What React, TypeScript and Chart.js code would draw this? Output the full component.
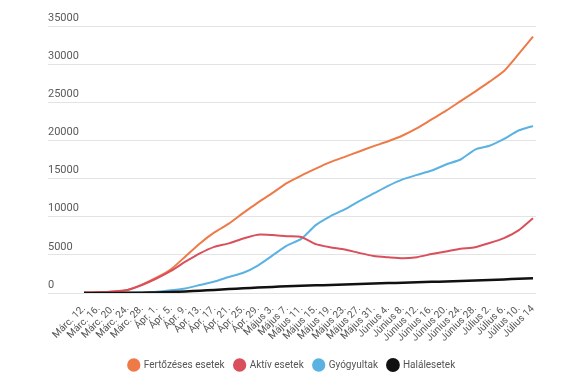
import React, { useEffect, useRef } from "react";
import { Chart, registerables } from "chart.js";

Chart.register(...registerables);

const categories = [
  "Márc. 12.", "Márc. 16.", "Márc. 20.", "Márc. 24.", "Márc. 28.",
  "Ápr. 1.", "Ápr. 5.", "Ápr. 9.", "Ápr. 13.", "Ápr. 17.", "Ápr. 21.", "Ápr. 25.", "Ápr. 29.",
  "Május 3.", "Május 7.", "Május 11.", "Május 15.", "Május 19.", "Május 23.", "Május 27.", "Május 31.",
  "Június 4.", "Június 8.", "Június 12.", "Június 16.", "Június 20.", "Június 24.", "Június 28.",
  "Július 2.", "Július 6.", "Július 10.", "Július 14",
];

const totalCases = [
  50, 100, 200, 400, 1100, 2000, 3100, 4800, 6500, 7950, 9100, 10500, 11850, 13100, 14400, 15400,
  16300, 17150, 17850, 18550, 19250, 19900, 20650, 21600, 22750, 23900, 25150, 26400, 27700, 29100, 31300, 33600,
];
const activeCases = [
  50, 100, 200, 400, 1050, 1900, 2900, 4100, 5200, 6050, 6500, 7150, 7650, 7600, 7450, 7350,
  6400, 6000, 5700, 5250, 4850, 4680, 4550, 4700, 5100, 5450, 5800, 6000, 6550, 7200, 8200, 9800,
];
const recovered = [
  0, 0, 10, 20, 50, 150, 350, 600, 1050, 1500, 2100, 2650, 3600, 4900, 6200, 7100,
  8900, 10050, 10950, 12050, 13050, 14050, 14900, 15480, 16050, 16850, 17500, 18800, 19300, 20200, 21300, 21900,
];
const deaths = [
  0, 5, 10, 20, 40, 80, 130, 200, 300, 400, 520, 620, 720, 800, 880, 940,
  1000, 1060, 1120, 1180, 1250, 1300, 1350, 1400, 1460, 1520, 1580, 1640, 1700, 1780, 1860, 1930,
];

const seriesNames = ["Fertőzéses esetek", "Aktív esetek", "Gyógyultak", "Halálesetek"];
const yTicks = [0, 5000, 10000, 15000, 20000, 25000, 30000, 35000];

export default function App() {
  const ref = useRef<HTMLCanvasElement | null>(null);

  useEffect(() => {
    document.body.style.margin = "0";
    if (!ref.current) return;
    const toPts = (arr: number[]) => arr.map((v, i) => ({ x: i, y: v }));
    const colors = ["#ee7a48", "#d9505c", "#5ab2e2", "#111111"];
    const dataArrays = [totalCases, activeCases, recovered, deaths];
    const orders = [2, 1, 3, 0];
    const chart = new Chart(ref.current, {
      type: "line",
      data: {
        datasets: dataArrays.map((arr, k) => ({
          label: seriesNames[k],
          data: toPts(arr),
          borderColor: colors[k],
          backgroundColor: colors[k],
          borderWidth: k === 3 ? 2.5 : 2,
          pointRadius: 0,
          tension: 0.2,
          order: orders[k],
        })),
      },
      options: {
        animation: false,
        responsive: false,
        maintainAspectRatio: false,
        layout: { padding: { left: 48, right: 39, top: 26, bottom: 7 } },
        plugins: {
          tooltip: { enabled: false },
          legend: {
            position: "bottom",
            labels: {
              usePointStyle: true,
              pointStyle: "circle",
              boxHeight: 8,
              color: "#555",
              padding: 10,
              font: { family: "Roboto", size: 10 },
              sort: (a: any, b: any) => a.datasetIndex - b.datasetIndex,
            },
          },
        },
        scales: {
          x: {
            type: "linear",
            min: -2.486,
            max: 31.207,
            grid: { display: false },
            border: { display: false },
            afterBuildTicks: (scale: any) => {
              scale.ticks = categories.map((_, i) => ({ value: i }));
            },
            afterFit: (scale: any) => {
              scale.height = 57;
            },
            ticks: {
              autoSkip: false,
              maxRotation: 45,
              minRotation: 45,
              padding: 2,
              color: "#555",
              font: { family: "Roboto", size: 10 },
              callback: (v: any) => categories[Math.round(Number(v))] ?? "",
            },
          },
          y: {
            min: 0,
            max: 35000,
            grid: { color: "#e3e3e3", drawTicks: false, lineWidth: 1 },
            border: { display: false },
            afterBuildTicks: (scale: any) => {
              scale.ticks = yTicks.map((v) => ({ value: v }));
            },
            afterFit: (scale: any) => {
              scale.width = 0;
            },
            ticks: {
              mirror: true,
              padding: 0,
              labelOffset: -8,
              color: "#5a5a5a",
              font: { family: "Roboto", size: 11 },
              callback: (v: any) => String(v),
            },
          },
        },
      },
    });
    return () => chart.destroy();
  }, []);

  return (
    <div style={{ width: 575, height: 387, position: "relative" }}>
      <canvas ref={ref} width={575} height={387} style={{ width: 575, height: 387, display: "block" }} />
    </div>
  );
}
